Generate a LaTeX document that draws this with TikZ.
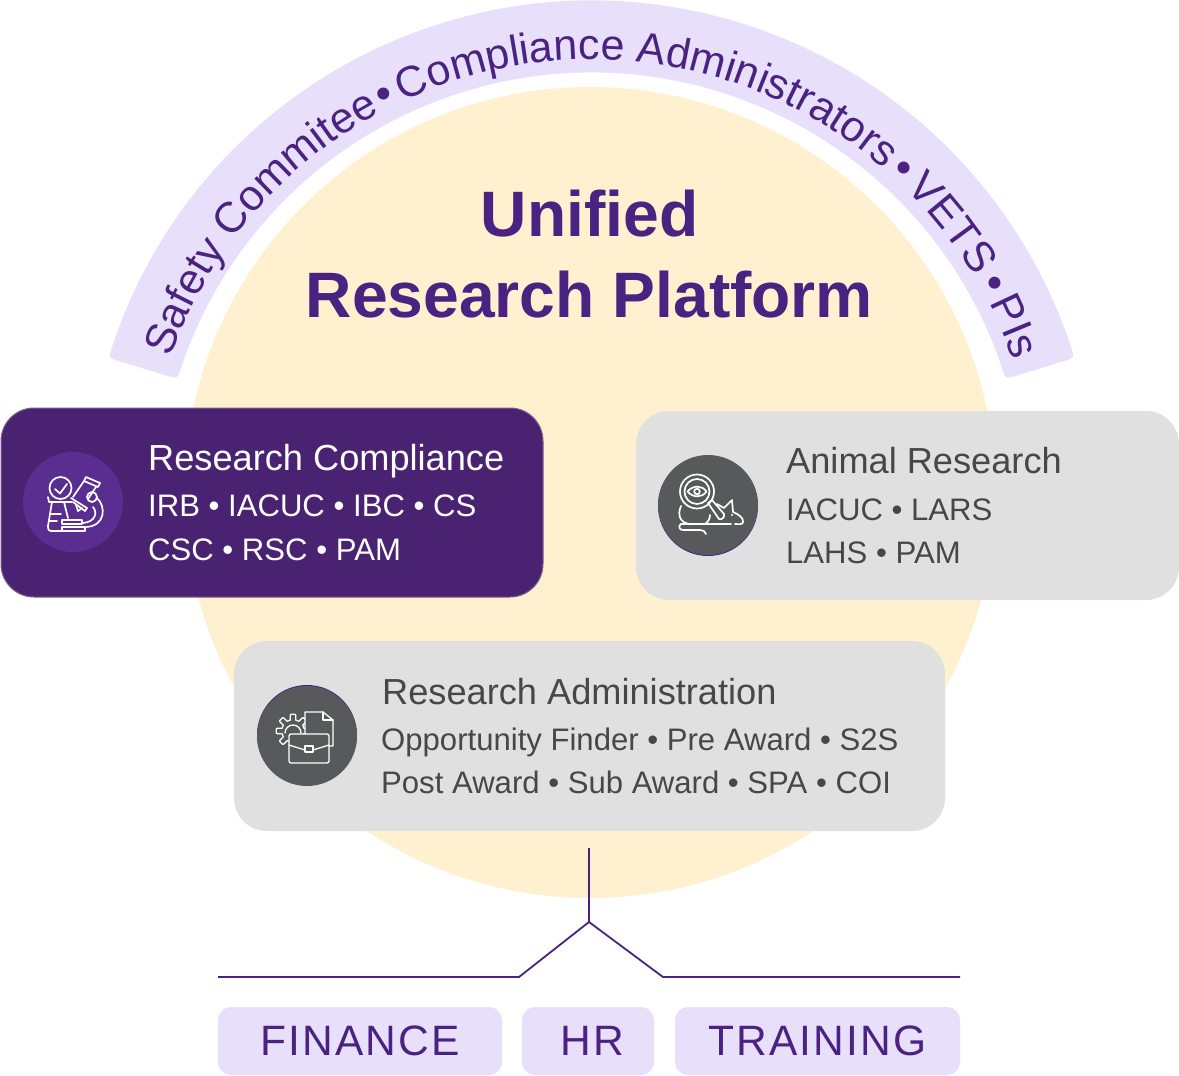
\documentclass[tikz,border=0pt]{standalone}
\usepackage{fontspec}
\setmainfont{Liberation Sans}
\usetikzlibrary{decorations.text}
\definecolor{bandc}{HTML}{E8DFFA}
\definecolor{yel}{HTML}{FFF1D0}
\definecolor{purp}{HTML}{4A2282}
\definecolor{deep}{HTML}{4A2272}
\definecolor{edgec}{HTML}{7F5F8F}
\definecolor{midp}{HTML}{5A2D91}
\definecolor{boxg}{HTML}{E0E0E0}
\definecolor{disc}{HTML}{58595B}
\definecolor{tgray}{HTML}{474747}
\newcommand{\fsz}[1]{\fontsize{#1}{#1}\selectfont}
\tikzset{
  x=1pt,y=-1pt,
  card/.style={rounded corners=33pt,line width=1pt},
  hd/.style={anchor=base west,inner sep=0pt,font=\fsz{36.2}},
  ln/.style={anchor=base west,inner sep=0pt,font=\fsz{31.1}},
  ttl/.style={anchor=base,inner sep=0pt,font=\fsz{64.2}\bfseries,text=purp},
  dept/.style={rounded corners=13pt,fill=bandc,draw=none,minimum height=68pt,inner sep=0pt,text=purp,font=\fsz{42.5}\addfontfeature{LetterSpace=5}},
  ico/.style={draw=white,line width=1.7pt,line cap=round,line join=round},
  wire/.style={draw=purp,line width=1.8pt,line join=miter},
  blt/.style={anchor=base,inner sep=0pt,text=purp,font=\fsz{44}},
  arctext/.style={decorate,decoration={text along path,text format delimiters={|}{|},
    text={|\fsz{43}\color{purp}|#1},text align=center}}
}
\begin{document}
\begin{tikzpicture}
\useasboundingbox (0,0) rectangle (1179,1076);
\fill[white] (0,0) rectangle (1179,1076);
\coordinate (c) at (591.5,505.5);
% yellow circle
\fill[yel] (590,492.5) circle[radius=405.5pt];
% band
\begin{scope}[shift={(c)}]
\fill[bandc] (161.8:505pt) arc[start angle=161.8,end angle=18.2,radius=505pt]
  .. controls (17:505pt) .. (17:495pt) -- (17:443pt)
  .. controls (17:433pt) .. (18.4:433pt)
  arc[start angle=18.4,end angle=161.6,radius=433pt]
  .. controls (163:433pt) .. (163:443pt) -- (163:495pt)
  .. controls (163:505pt) .. cycle;
\path[arctext={Safety Commitee}] (165.5:446pt) arc[start angle=165.5,end angle=113.5,radius=446pt];
\path[arctext={Compliance Administrators}] (120:446pt) arc[start angle=120,end angle=44,radius=446pt];
\path[arctext={VETS}] (52:446pt) arc[start angle=52,end angle=24,radius=446pt];
\path[arctext={PIs}] (33.5:446pt) arc[start angle=33.5,end angle=12.5,radius=446pt];
\node[blt,rotate=26.8] (b1) at (116.8:446pt) {•};
\node[blt,rotate=-42.8] (b2) at (47.2:446pt) {•};
\node[blt,rotate=-61.1] (b3) at (28.9:446pt) {•};
\end{scope}
% title
\node[ttl] (t1) at (589.5,236) {Unified};
\node[ttl] (t2) at (589.5,317) {Research Platform};
% cards
\draw[card,fill=deep,draw=edgec] (1,408) rectangle (543,597);
\fill[card,fill=boxg] (636,411) rectangle (1179,600);
\fill[card,fill=boxg] (234,641) rectangle (945,831);
\fill[midp] (73,502) circle[radius=50pt];
\fill[purp] (708,506) circle[radius=50pt];
\fill[disc] (708,505) circle[radius=50pt];
\fill[purp] (307,735) circle[radius=50pt];
\fill[disc] (307,736) circle[radius=50pt];
% card text
\node[hd,text=white] (rc) at (148,470) {Research Compliance};
\node[ln,text=white] (rc1) at (148,516) {IRB • IACUC • IBC • CS};
\node[ln,text=white] (rc2) at (148,560) {CSC • RSC • PAM};
\node[hd,text=tgray] (ar) at (786,473) {Animal Research};
\node[ln,text=tgray] (ar1) at (786,520) {IACUC • LARS};
\node[ln,text=tgray] (ar2) at (786,563) {LAHS • PAM};
\node[hd,text=tgray] (ad) at (382,704) {Research Administration};
\node[ln,text=tgray] (ad1) at (381,750) {Opportunity Finder • Pre Award • S2S};
\node[ln,text=tgray] (ad2) at (381,793) {Post Award • Sub Award • SPA • COI};
% microscope icon
\begin{scope}[ico]
\draw (60.5,488) circle[radius=11pt];
\draw (55,489) -- (60,493.5) -- (67,484);
\draw (48,497) -- (49,502) -- (72,502);
\draw (52,502) -- (48,526) .. controls (48,530) and (49,531) .. (51,531) -- (62,531);
\draw (50,514) -- (61,514) (50,521) -- (57,521);
\draw (64,502) -- (68,518);
\draw (84,481) -- (73,497) (96,487) -- (88,499);
\draw (86,477) -- (100,483) -- (98,487) -- (84,481) -- cycle;
\draw (71,498) -- (87,508) -- (85,511) -- (73,502);
\draw (76,505) -- (78,511) -- (82,508);
\draw (92,497) circle[radius=5pt];
\draw (97,498) .. controls (106,506) and (106,526) .. (86,527);
\draw (93,507) .. controls (98,513) and (95,522) .. (83,523);
\draw (62,520) -- (82,520) -- (82,524) -- (62,524) -- cycle;
\draw (62,527) -- (85,527) -- (85,531) -- (62,531) -- cycle;
\end{scope}
% mouse icon
\begin{scope}[ico]
\draw (697,491.5) circle[radius=17pt];
\draw (697,491.5) circle[radius=12.5pt];
\draw (687.5,491.5) .. controls (693,485) and (702,485) .. (706.5,491.5) .. controls (702,498) and (693,498) .. (687.5,491.5) -- cycle;
\draw (697,491.5) circle[radius=2.8pt];
\draw (708,503) -- (712,500) -- (724,514) .. controls (725,518) and (721,520) .. (719,519) -- cycle;
\draw (681,506) .. controls (677,515) and (680,523) .. (690,524);
\draw (710,515) .. controls (710,519) and (708,522) .. (705,524);
\draw (681,524) -- (731,524);
\draw (717,504) -- (724,508) -- (732,500) -- (733,512) .. controls (738,514) and (744,518) .. (743,522) .. controls (743,525) and (738,524) .. (735,524);
\draw (681,524) .. controls (678,526) and (679,530) .. (683,530) -- (700,530) .. controls (703,530) and (705,531) .. (706,534);
\fill[white] (732,515) circle[radius=1.2pt];
\end{scope}
% briefcase icon
\begin{scope}[ico,line width=1.3pt]
\begin{scope}[shift={(293,731)}]
\draw plot[samples=193,domain=0:360] (\x:{14+2.8*min(1,max(-1,3*cos(8*\x)))});
\draw (-8,2) arc[start angle=180,end angle=0,radius=8pt];
\end{scope}
\draw[fill=disc] (305,733) -- (305,712) -- (323,712) -- (333,720) -- (333,746) -- (305,746) -- cycle;
\draw (323,712) -- (323,720) -- (333,720);
\draw[fill=disc,rounded corners=2pt] (289,734) rectangle (329,763);
\draw (289,745) -- (305,750) (313,750) -- (329,745);
\draw (305,746) rectangle (313,752);
\end{scope}
% connector
\coordinate (stem) at (589,848);
\coordinate (apex) at (589,922);
\coordinate (l1) at (519,977);
\coordinate (l2) at (218,977);
\coordinate (r1) at (663,977);
\coordinate (r2) at (960,977);
\draw[wire] (stem) -- (apex);
\draw[wire] (l2) -- (l1) -- (apex) -- (r1) -- (r2);
% depts
\node[dept,minimum width=284pt] (fin) at (360,1041) {FINANCE};
\node[dept,minimum width=132pt] (hr) at (588,1041) {\kern8pt HR};
\node[dept,minimum width=285pt] (tr) at (817.5,1041) {TRAINING};
\end{tikzpicture}
\end{document}
